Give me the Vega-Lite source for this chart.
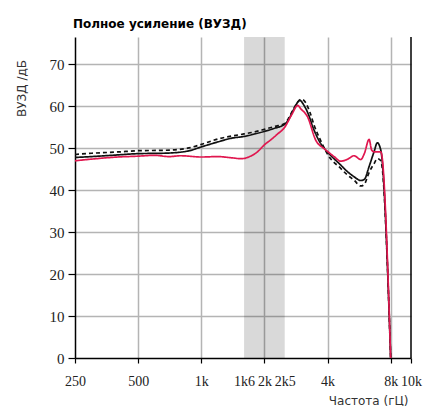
{
  "$schema": "https://vega.github.io/schema/vega-lite/v6.json",
  "width": 336,
  "height": 321,
  "autosize": {"type": "none"},
  "padding": {"left": 75, "top": 37, "right": 13, "bottom": 48},
  "background": "white",
  "title": {"text": "Полное усиление (ВУЗД)", "anchor": "start", "frame": "group", "font": "DejaVu Sans", "fontSize": 12, "fontWeight": "bold", "color": "#000", "offset": 5, "dx": -2},
  "config": {"view": {"stroke": null}},
  "datasets": {
    "band": [{"f": 1600, "f2": 2500}],
    "edge": [{"f": 10000}],
    "curves": [
      {"s": "a_black", "f": 250, "v": 47.8}, {"s": "a_black", "f": 300, "v": 48.0}, {"s": "a_black", "f": 400, "v": 48.4}, {"s": "a_black", "f": 500, "v": 48.7}, {"s": "a_black", "f": 666, "v": 48.8}, {"s": "a_black", "f": 860, "v": 49.3}, {"s": "a_black", "f": 1000, "v": 50.3}, {"s": "a_black", "f": 1200, "v": 51.5}, {"s": "a_black", "f": 1400, "v": 52.4}, {"s": "a_black", "f": 1600, "v": 52.8}, {"s": "a_black", "f": 1800, "v": 53.4}, {"s": "a_black", "f": 2000, "v": 54.0}, {"s": "a_black", "f": 2250, "v": 54.8}, {"s": "a_black", "f": 2500, "v": 55.7}, {"s": "a_black", "f": 2620, "v": 57.0}, {"s": "a_black", "f": 2770, "v": 59.4}, {"s": "a_black", "f": 2950, "v": 61.4}, {"s": "a_black", "f": 3090, "v": 60.2}, {"s": "a_black", "f": 3210, "v": 58.6}, {"s": "a_black", "f": 3450, "v": 54.3}, {"s": "a_black", "f": 3710, "v": 51.1}, {"s": "a_black", "f": 4030, "v": 48.9}, {"s": "a_black", "f": 4620, "v": 46.0}, {"s": "a_black", "f": 4980, "v": 44.4}, {"s": "a_black", "f": 5350, "v": 43.2}, {"s": "a_black", "f": 5760, "v": 42.3}, {"s": "a_black", "f": 6000, "v": 42.6}, {"s": "a_black", "f": 6310, "v": 45.6}, {"s": "a_black", "f": 6660, "v": 49.1}, {"s": "a_black", "f": 6910, "v": 51.3}, {"s": "a_black", "f": 7180, "v": 49.5}, {"s": "a_black", "f": 8000, "v": 0},
      {"s": "b_dash", "f": 250, "v": 48.5}, {"s": "b_dash", "f": 300, "v": 48.8}, {"s": "b_dash", "f": 400, "v": 49.1}, {"s": "b_dash", "f": 500, "v": 49.4}, {"s": "b_dash", "f": 666, "v": 49.5}, {"s": "b_dash", "f": 860, "v": 50.0}, {"s": "b_dash", "f": 1000, "v": 50.9}, {"s": "b_dash", "f": 1200, "v": 52.2}, {"s": "b_dash", "f": 1400, "v": 52.9}, {"s": "b_dash", "f": 1600, "v": 53.4}, {"s": "b_dash", "f": 1800, "v": 53.9}, {"s": "b_dash", "f": 2000, "v": 54.5}, {"s": "b_dash", "f": 2250, "v": 55.2}, {"s": "b_dash", "f": 2500, "v": 55.9}, {"s": "b_dash", "f": 2620, "v": 57.3}, {"s": "b_dash", "f": 2770, "v": 59.6}, {"s": "b_dash", "f": 3005, "v": 61.7}, {"s": "b_dash", "f": 3150, "v": 60.8}, {"s": "b_dash", "f": 3300, "v": 58.5}, {"s": "b_dash", "f": 3450, "v": 55.5}, {"s": "b_dash", "f": 3710, "v": 51.8}, {"s": "b_dash", "f": 4030, "v": 48.3}, {"s": "b_dash", "f": 4620, "v": 45.2}, {"s": "b_dash", "f": 4980, "v": 43.6}, {"s": "b_dash", "f": 5350, "v": 42.4}, {"s": "b_dash", "f": 5760, "v": 41.0}, {"s": "b_dash", "f": 5970, "v": 41.3}, {"s": "b_dash", "f": 6310, "v": 44.2}, {"s": "b_dash", "f": 6660, "v": 46.3}, {"s": "b_dash", "f": 6910, "v": 47.5}, {"s": "b_dash", "f": 7180, "v": 47.0}, {"s": "b_dash", "f": 8000, "v": 0},
      {"s": "c_red", "f": 250, "v": 47.0}, {"s": "c_red", "f": 300, "v": 47.4}, {"s": "c_red", "f": 400, "v": 47.9}, {"s": "c_red", "f": 500, "v": 48.1}, {"s": "c_red", "f": 600, "v": 48.3}, {"s": "c_red", "f": 700, "v": 48.0}, {"s": "c_red", "f": 800, "v": 48.2}, {"s": "c_red", "f": 1000, "v": 47.9}, {"s": "c_red", "f": 1200, "v": 48.0}, {"s": "c_red", "f": 1400, "v": 47.7}, {"s": "c_red", "f": 1550, "v": 47.5}, {"s": "c_red", "f": 1700, "v": 48.0}, {"s": "c_red", "f": 1850, "v": 49.1}, {"s": "c_red", "f": 2000, "v": 50.8}, {"s": "c_red", "f": 2145, "v": 52.0}, {"s": "c_red", "f": 2300, "v": 53.3}, {"s": "c_red", "f": 2500, "v": 55.0}, {"s": "c_red", "f": 2700, "v": 58.0}, {"s": "c_red", "f": 2885, "v": 60.2}, {"s": "c_red", "f": 2980, "v": 59.4}, {"s": "c_red", "f": 3210, "v": 57.5}, {"s": "c_red", "f": 3515, "v": 51.9}, {"s": "c_red", "f": 3850, "v": 49.9}, {"s": "c_red", "f": 4030, "v": 49.1}, {"s": "c_red", "f": 4300, "v": 48.0}, {"s": "c_red", "f": 4620, "v": 46.9}, {"s": "c_red", "f": 5000, "v": 47.4}, {"s": "c_red", "f": 5350, "v": 48.2}, {"s": "c_red", "f": 5760, "v": 47.3}, {"s": "c_red", "f": 6000, "v": 48.8}, {"s": "c_red", "f": 6310, "v": 52.1}, {"s": "c_red", "f": 6500, "v": 49.5}, {"s": "c_red", "f": 6700, "v": 49.1}, {"s": "c_red", "f": 7180, "v": 49.1}, {"s": "c_red", "f": 8000, "v": 0}
    ]
  },
  "encoding": {
    "x": {
      "field": "f", "type": "quantitative",
      "scale": {"type": "log", "domain": [250, 10000], "nice": false},
      "axis": {
        "values": [250, 500, 1000, 1600, 2000, 2500, 4000, 8000, 10000],
        "labelExpr": "datum.value==250?'250':datum.value==500?'500':datum.value==1000?'1k':datum.value==1600?'1k6':datum.value==2000?'2k':datum.value==2500?'2k5':datum.value==4000?'4k':datum.value==8000?'8k':'10k'",
        "title": "Частота (гЦ)",
        "titleFont": "DejaVu Sans", "titleFontSize": 12, "titleFontWeight": "normal", "titleColor": "#333",
        "titleAlign": "right", "titleBaseline": "alphabetic", "titleX": 333, "titleY": 46,
        "grid": true,
        "gridColor": {"condition": {"test": "datum.value==1600||datum.value==2500||datum.value==250||datum.value==10000", "value": "transparent"}, "value": "#b4b4b4"},
        "gridWidth": 1.5,
        "tickColor": {"condition": {"test": "datum.value==1600||datum.value==2500", "value": "transparent"}, "value": "#000"},
        "tickSize": 5, "tickWidth": 1.2,
        "domainColor": "#000", "domainWidth": 1.5,
        "labelFont": "Liberation Sans Narrow", "labelFontSize": 14, "labelColor": "#222",
        "labelPadding": 11, "labelFlush": false, "labelOverlap": false
      }
    }
  },
  "layer": [
    {
      "data": {"name": "band"},
      "mark": {"type": "rect", "color": "#000", "opacity": 0.15},
      "encoding": {
        "x2": {"field": "f2"}
      }
    },
    {
      "data": {"name": "curves"},
      "mark": {"type": "line", "strokeWidth": 1.7, "clip": true, "interpolate": "monotone"},
      "encoding": {
        "y": {
          "field": "v", "type": "quantitative",
          "scale": {"domain": [0, 76.5], "nice": false},
          "axis": {
            "values": [0, 10, 20, 30, 40, 50, 60, 70],
            "title": "ВУЗД /дБ",
            "titleFont": "DejaVu Sans", "titleFontSize": 12, "titleFontWeight": "normal", "titleColor": "#333",
            "titleAlign": "center", "titleBaseline": "middle", "titleX": -54, "titleY": 51, "titleAngle": -90,
            "grid": true,
            "gridColor": {"condition": {"test": "datum.value==0", "value": "transparent"}, "value": "#b4b4b4"},
            "gridWidth": 1.5,
            "tickColor": "#000", "tickSize": 7, "tickWidth": 1.2,
            "domainColor": "#000", "domainWidth": 1.5,
            "labelFont": "Liberation Sans Narrow", "labelFontSize": 15, "labelColor": "#222",
            "labelPadding": 4
          }
        },
        "color": {"field": "s", "type": "nominal", "scale": {"domain": ["a_black", "b_dash", "c_red"], "range": ["#111111", "#111111", "#e0174f"]}, "legend": null},
        "strokeDash": {"field": "s", "type": "nominal", "scale": {"domain": ["a_black", "b_dash", "c_red"], "range": [[1, 0], [4, 3], [1, 0]]}, "legend": null}
      }
    },
    {
      "data": {"name": "edge"},
      "mark": {"type": "rule", "color": "#000", "strokeWidth": 1.5},
      "encoding": {}
    }
  ]
}
